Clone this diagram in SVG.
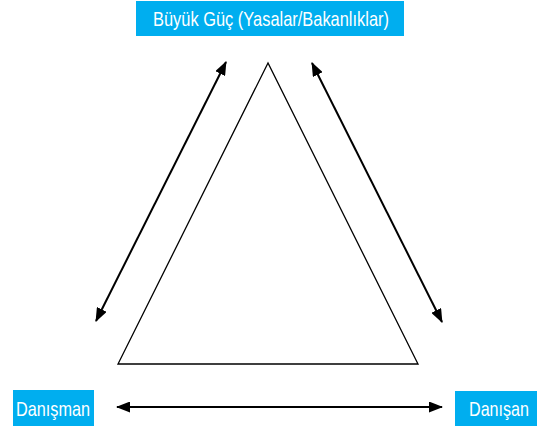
<svg xmlns="http://www.w3.org/2000/svg" width="538" height="430" viewBox="0 0 538 430">
<style>
.box{fill:#00aeef;}
.lbl{font-family:"Liberation Sans",Arial,sans-serif;font-size:21px;fill:#ffffff;}
.conn{stroke:#000;stroke-width:2;fill:none;marker-start:url(#ah);marker-end:url(#ah);}
</style>
<defs>
<marker id="ah" viewBox="0 0 14 11" refX="13" refY="5.5" markerWidth="14" markerHeight="11" markerUnits="userSpaceOnUse" orient="auto-start-reverse">
<path d="M0,0 L14,5.5 L0,11 Z" fill="#000"/>
</marker>
</defs>
<rect width="538" height="430" fill="#fff"/>
<g id="triangle">
<polygon points="268,63 118,364 418,364" fill="#fff" stroke="#000" stroke-width="1.3"/>
</g>
<g id="buyuk-guc">
<rect class="box" x="136" y="1" width="268" height="35"/>
<text class="lbl" x="153" y="26" textLength="236" lengthAdjust="spacingAndGlyphs">Büyük Güç (Yasalar/Bakanlıklar)</text>
</g>
<g id="danisman">
<rect class="box" x="13" y="390" width="81" height="36"/>
<text class="lbl" x="16" y="416" textLength="74" lengthAdjust="spacingAndGlyphs">Danışman</text>
</g>
<g id="danisan">
<rect class="box" x="455" y="391" width="82" height="35"/>
<text class="lbl" x="469" y="416" textLength="60" lengthAdjust="spacingAndGlyphs">Danışan</text>
</g>
<g id="connectors">
<line class="conn" x1="96" y1="321" x2="226" y2="62"/>
<line class="conn" x1="312" y1="63" x2="442" y2="322"/>
<line class="conn" x1="117" y1="407" x2="442" y2="407"/>
</g>
</svg>
